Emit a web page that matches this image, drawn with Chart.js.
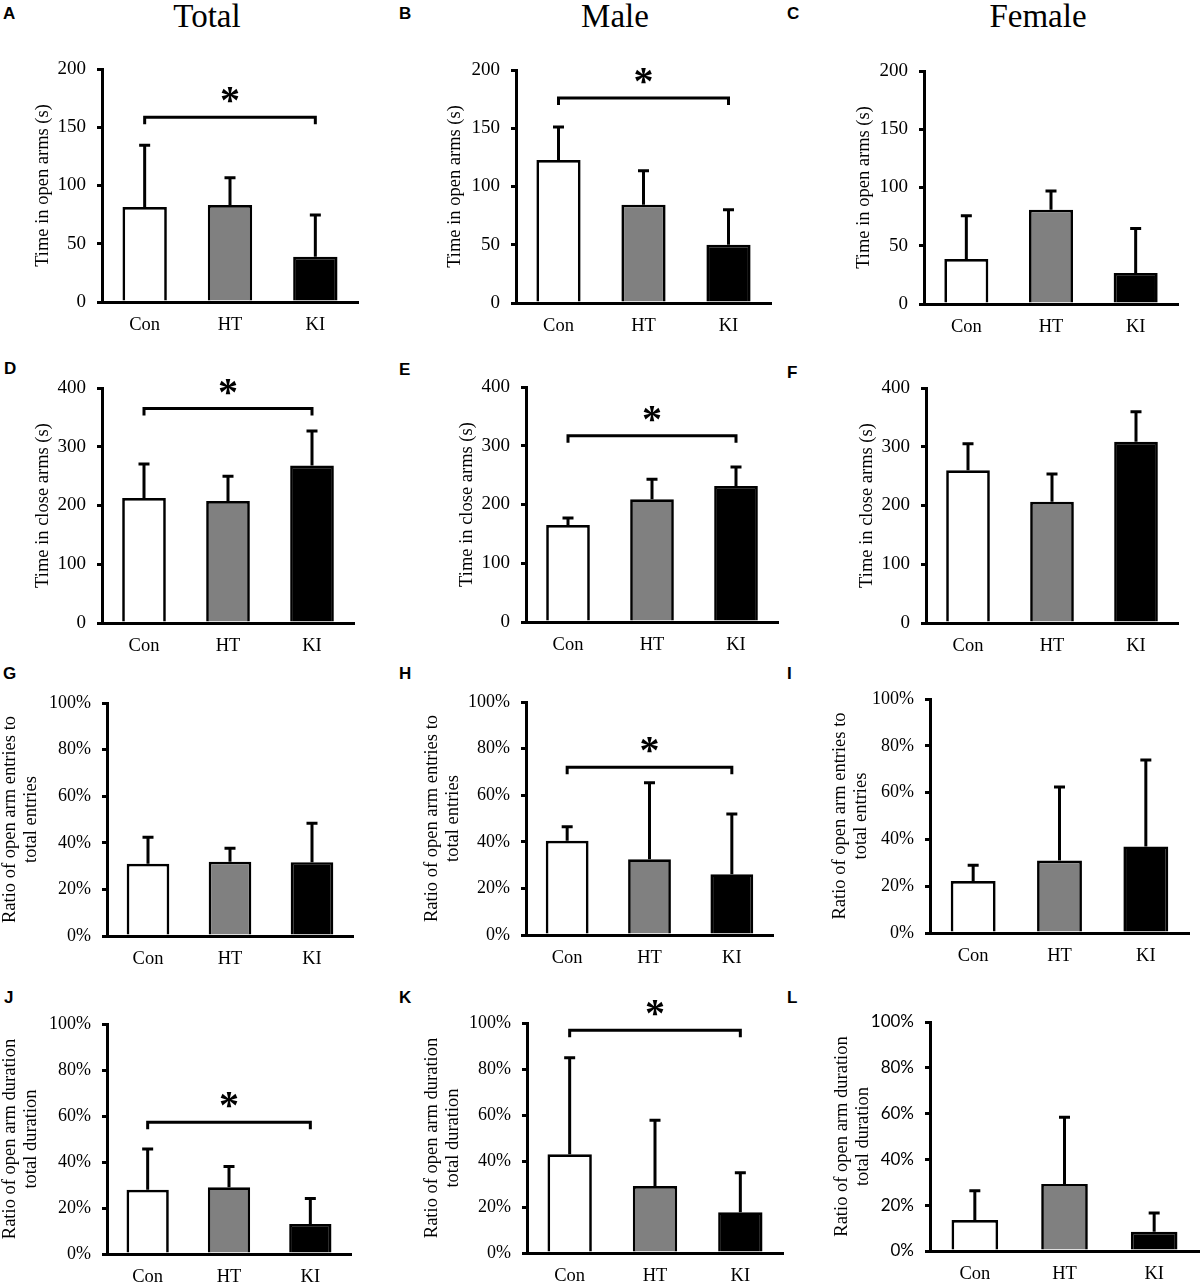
<!DOCTYPE html>
<html>
<head>
<meta charset="utf-8">
<script src="https://cdn.jsdelivr.net/npm/chart.js@4.4.1/dist/chart.umd.min.js"></script>
<style>
  html, body { margin: 0; padding: 0; background: #fff; }
  #page { position: relative; width: 1202px; height: 1285px; overflow: hidden; }
  #page canvas { position: absolute; }
  .col { position: absolute; top: 0; font-family: "Liberation Serif", "Times New Roman", serif; font-size: 33px; line-height: 1; transform: translateX(-50%); white-space: nowrap; }
  .tag { position: absolute; font-family: "Liberation Sans", Arial, sans-serif; font-weight: bold; font-size: 17px; line-height: 1; }
</style>
</head>
<body>
<div id="page">
  <div class="col" style="left:207px">Total</div>
  <div class="col" style="left:615px">Male</div>
  <div class="col" style="left:1038px">Female</div>

  <div class="tag" style="left:3px;top:5px">A</div>
  <div class="tag" style="left:399px;top:5px">B</div>
  <div class="tag" style="left:787px;top:5px">C</div>
  <div class="tag" style="left:4px;top:360px">D</div>
  <div class="tag" style="left:399px;top:361px">E</div>
  <div class="tag" style="left:787px;top:364px">F</div>
  <div class="tag" style="left:3px;top:665px">G</div>
  <div class="tag" style="left:399px;top:665px">H</div>
  <div class="tag" style="left:787px;top:665px">I</div>
  <div class="tag" style="left:4px;top:989px">J</div>
  <div class="tag" style="left:399px;top:989px">K</div>
  <div class="tag" style="left:787px;top:989px">L</div>
</div>
<script>
// groups and bar fills
const groups = ['Con', 'HT', 'KI'];
const groupColors = ['#ffffff', '#808080', '#000000'];

// time in open arms (s): mean and SD
const openTotal = [81.5, 83.3, 38.9];
const openTotalErr = [53, 23.4, 35.8];
const openMale = [122.7, 84.4, 50];
const openMaleErr = [28.3, 29.2, 30];
const openFemale = [38.6, 81, 26.6];
const openFemaleErr = [37.1, 16, 38.3];

// time in close arms (s)
const closeTotal = [212.8, 207.7, 268];
const closeTotalErr = [57.8, 41.9, 59];
const closeMale = [165, 209, 231.5];
const closeMaleErr = [12, 34, 32.5];
const closeFemale = [260, 206.5, 308.7];
const closeFemaleErr = [45, 47.1, 51];

// ratio of open arm entries (%)
const entryTotal = [31, 31.9, 31.7];
const entryTotalErr = [11.4, 5.8, 16.7];
const entryMale = [40.4, 32.5, 26.1];
const entryMaleErr = [6.1, 32.8, 25.8];
const entryFemale = [22.2, 31, 37];
const entryFemaleErr = [6.8, 31.4, 36.9];

// ratio of open arm duration (%)
const durTotal = [27.9, 29, 13];
const durTotalErr = [17.7, 9, 11.1];
const durMale = [42.9, 29.1, 17.7];
const durMaleErr = [42, 28.6, 17.2];
const durFemale = [13.5, 29.3, 8.4];
const durFemaleErr = [12.8, 29.1, 8.2];

// height of the Con vs KI significance bracket (null = none)
const sigOpen = [158.5, 176, null];
const sigClose = [365, 317, null];
const sigEntry = [null, 72, null];
const sigDur = [57.3, 96.8, null];

const openTicks = { max: 200, step: 50 };
const closeTicks = { max: 400, step: 100 };
const pctTicks = { max: 100, step: 20 };

const openTitle = 'Time in open arms (s)';
const closeTitle = 'Time in close arms (s)';
const entryTitle = ['Ratio of open arm entries to', 'total entries'];
const durTitle = ['Ratio of open arm duration', 'total duration'];

const SERIF = '"Liberation Serif", "Times New Roman", serif';
const TITLE_SIZE = 18.5;
const TITLE_LH = 1.15;

// box: [axis x, y of max, y of zero, x axis end, centre of first title line]
const panels = [
  { col: 0,   mean: openTotal,   err: openTotalErr,   sig: sigOpen[0],  t: openTicks,  title: openTitle,  box: [102, 69, 302, 358, 43] },
  { col: 400, mean: openMale,    err: openMaleErr,    sig: sigOpen[1],  t: openTicks,  title: openTitle,  box: [516, 70, 303, 771, 455] },
  { col: 800, mean: openFemale,  err: openFemaleErr,  sig: sigOpen[2],  t: openTicks,  title: openTitle,  box: [924, 71, 304, 1178, 864] },
  { col: 0,   mean: closeTotal,  err: closeTotalErr,  sig: sigClose[0], t: closeTicks, title: closeTitle, box: [102, 388, 623, 354, 43] },
  { col: 400, mean: closeMale,   err: closeMaleErr,   sig: sigClose[1], t: closeTicks, title: closeTitle, box: [526, 387, 622, 778, 467] },
  { col: 800, mean: closeFemale, err: closeFemaleErr, sig: sigClose[2], t: closeTicks, title: closeTitle, box: [926, 388, 623, 1178, 867] },
  { col: 0,   mean: entryTotal,  err: entryTotalErr,  sig: sigEntry[0], t: pctTicks, pct: true, title: entryTitle, box: [107, 703, 936, 353, 10] },
  { col: 400, mean: entryMale,   err: entryMaleErr,   sig: sigEntry[1], t: pctTicks, pct: true, title: entryTitle, box: [526, 702, 935, 773, 432] },
  { col: 800, mean: entryFemale, err: entryFemaleErr, sig: sigEntry[2], t: pctTicks, pct: true, title: entryTitle, box: [930, 699, 933, 1189, 840] },
  { col: 0,   mean: durTotal,    err: durTotalErr,    sig: sigDur[0],   t: pctTicks, pct: true, title: durTitle, box: [107, 1024, 1254, 351, 10] },
  { col: 400, mean: durMale,     err: durMaleErr,     sig: sigDur[1],   t: pctTicks, pct: true, title: durTitle, box: [527, 1023, 1253, 783, 432] },
  { col: 800, mean: durFemale,   err: durFemaleErr,   sig: sigDur[2],   t: pctTicks, pct: true, title: durTitle, box: [930, 1022, 1251, 1199, 842], sansTicks: true }
];

// error bars (upper only) and the bracket with its star
const extrasPlugin = {
  id: 'extras',
  afterDatasetsDraw(chart, args, opts) {
    const ctx = chart.ctx;
    const yScale = chart.scales.y;
    const meta = chart.getDatasetMeta(0);
    ctx.save();
    ctx.strokeStyle = '#000';
    ctx.lineWidth = 3;
    ctx.lineCap = 'butt';
    meta.data.forEach((bar, i) => {
      const y0 = yScale.getPixelForValue(opts.mean[i]);
      const y1 = yScale.getPixelForValue(opts.mean[i] + opts.err[i]);
      ctx.beginPath();
      ctx.moveTo(bar.x, y0);
      ctx.lineTo(bar.x, y1);
      ctx.moveTo(bar.x - 5.5, y1);
      ctx.lineTo(bar.x + 5.5, y1);
      ctx.stroke();
    });
    if (opts.sig != null) {
      const y = yScale.getPixelForValue(opts.sig);
      const x1 = meta.data[0].x;
      const x2 = meta.data[meta.data.length - 1].x;
      ctx.lineJoin = 'miter';
      ctx.beginPath();
      ctx.moveTo(x1, y + 7);
      ctx.lineTo(x1, y);
      ctx.lineTo(x2, y);
      ctx.lineTo(x2, y + 7);
      ctx.stroke();
      ctx.fillStyle = '#000';
      ctx.font = 'bold 40px ' + SERIF;
      ctx.textAlign = 'center';
      ctx.textBaseline = 'alphabetic';
      const m = ctx.measureText('*');
      const cy = y - 22;
      ctx.fillText('*', (x1 + x2) / 2, cy + (m.actualBoundingBoxAscent - m.actualBoundingBoxDescent) / 2);
    }
    ctx.restore();
  }
};

Chart.defaults.color = '#000';
const page = document.getElementById('page');

panels.forEach(p => {
  const [axisX, yTop, yBottom, xRight, titleX] = p.box;
  const left = p.col - 20;
  const top = yTop - 45;
  const w = xRight - left + 4;
  const h = (yBottom - yTop) + 90;
  const padLeft = titleX - left - (TITLE_SIZE * TITLE_LH) / 2;

  const canvas = document.createElement('canvas');
  canvas.width = w;
  canvas.height = h;
  canvas.style.left = left + 'px';
  canvas.style.top = top + 'px';
  canvas.style.width = w + 'px';
  canvas.style.height = h + 'px';
  page.appendChild(canvas);

  const tickFont = p.sansTicks
    ? { family: 'Lato, "Liberation Sans", sans-serif', size: 17 }
    : { family: SERIF, size: p.pct ? 18 : 19 };

  new Chart(canvas, {
    type: 'bar',
    data: {
      labels: groups,
      datasets: [{
        data: p.mean,
        backgroundColor: groupColors,
        borderColor: '#000',
        borderWidth: 2.7,
        borderSkipped: 'start',
        barPercentage: 0.52,
        categoryPercentage: 1
      }]
    },
    options: {
      responsive: false,
      animation: false,
      layout: { padding: { top: 45, bottom: 0, left: padLeft, right: 4 } },
      plugins: {
        legend: { display: false },
        tooltip: { enabled: false },
        extras: { mean: p.mean, err: p.err, sig: p.sig }
      },
      scales: {
        x: {
          type: 'category',
          offset: true,
          grid: { display: false, drawTicks: false },
          border: { display: true, color: '#000', width: 3 },
          ticks: { font: { family: SERIF, size: 18.5 }, padding: 12, maxRotation: 0 },
          afterFit: s => { s.height = 45; }
        },
        y: {
          min: 0,
          max: p.t.max,
          grid: { display: true, drawOnChartArea: false, drawTicks: true, tickLength: 5, lineWidth: 3, color: '#000' },
          border: { display: true, color: '#000', width: 3 },
          ticks: {
            stepSize: p.t.step,
            font: tickFont,
            padding: 11,
            callback: v => p.pct ? v + '%' : v
          },
          title: {
            display: true,
            text: p.title,
            font: { family: SERIF, size: TITLE_SIZE, lineHeight: TITLE_LH },
            padding: 0
          },
          afterFit: s => { s.width = axisX - left - padLeft; }
        }
      }
    },
    plugins: [extrasPlugin]
  });
});
</script>
</body>
</html>
